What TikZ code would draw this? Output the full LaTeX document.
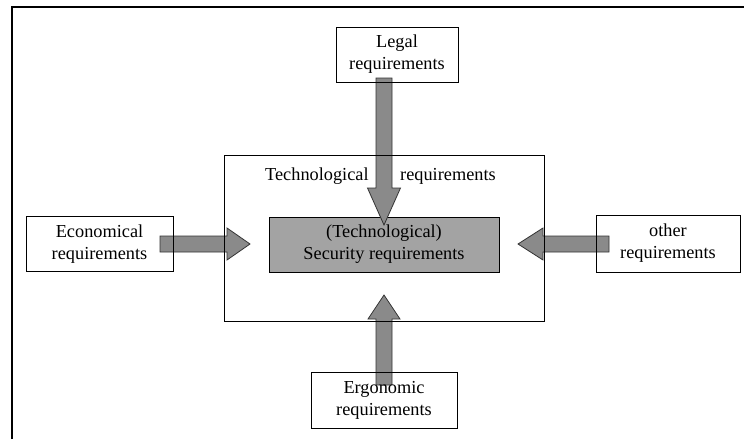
\documentclass[tikz,border=0pt]{standalone}
\usepackage{fontspec}
\setmainfont{Liberation Serif}
\definecolor{arrowgray}{RGB}{138,138,138}
\definecolor{secgray}{RGB}{163,163,163}
\begin{document}
\begin{tikzpicture}[x=1pt,y=-1pt,
  box/.style={draw=black,line width=1pt,inner sep=0pt,align=center,
    font=\fontsize{18.3}{22}\selectfont},
  lbl/.style={inner sep=0pt,align=center,font=\fontsize{18.3}{22}\selectfont},
  fatarrow/.style={fill=arrowgray,draw=black!80,line width=0.8pt,line join=miter}]
\useasboundingbox (0,0) rectangle (744,439);
\fill[white] (0,0) rectangle (744,439);
% outer frame
\draw[line width=2pt] (12,439) -- (12,7) -- (744,7);
% security box fill (below arrows)
\node[box,fill=secgray,minimum width=230pt,minimum height=55pt] (sec) at (384,244.5) {};
% arrows
\draw[fatarrow] (376,78) -- (392,78) -- (392,188) -- (400.5,188) -- (384,225) -- (367.5,188) -- (376,188) -- cycle;
\draw[fatarrow] (160,236) -- (227,236) -- (227,228) -- (250,244) -- (227,260) -- (227,252) -- (160,252) -- cycle;
\draw[fatarrow] (609,236) -- (543,236) -- (543,228) -- (518,244) -- (543,260) -- (543,252) -- (609,252) -- cycle;
\draw[fatarrow] (376,385) -- (376,319) -- (368,319) -- (384,295) -- (400,319) -- (392,319) -- (392,385) -- cycle;
% box outlines
\node[box,minimum width=320pt,minimum height=166pt] (tech) at (384,238) {};
\node[box,minimum width=122pt,minimum height=55pt] (legal) at (397,54.5) {};
\node[box,minimum width=147pt,minimum height=55pt] (econ) at (99.5,244) {};
\node[box,minimum width=144pt,minimum height=57pt] (other) at (668,243.5) {};
\node[box,minimum width=146pt,minimum height=56pt] (ergo) at (384,400) {};
% texts
\node[lbl] (legalt) at (legal.center) {Legal\\requirements};
\node[lbl] (econt) at (econ.center) {Economical\\requirements};
\node[lbl] (othert) at (other.center) {other\\requirements};
\node[lbl] (ergot) at (ergo.center) {Ergonomic\\requirements};
\node[lbl] (sect) at (sec.center) {(Technological)\\Security requirements};
\node[lbl,anchor=base west] (techt1) at (265,180) {Technological};
\node[lbl,anchor=base west] (techt2) at (400,180) {requirements};
\end{tikzpicture}
\end{document}
